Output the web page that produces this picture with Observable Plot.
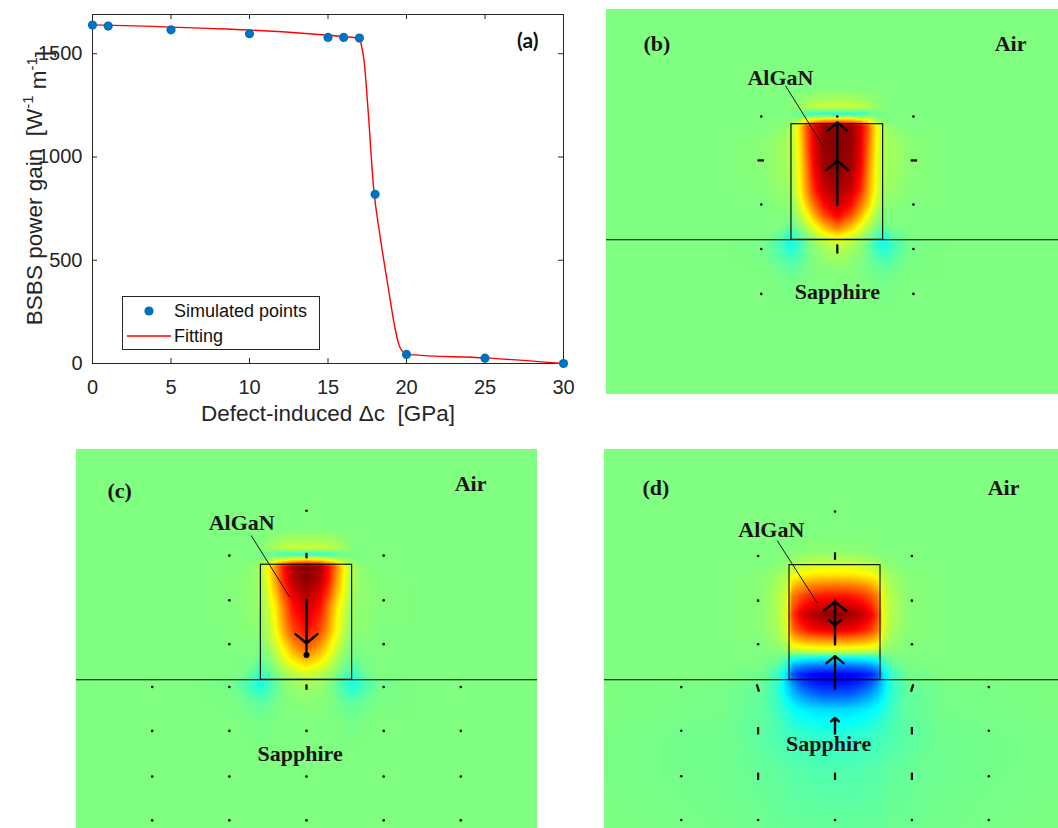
<!DOCTYPE html>
<html>
<head>
<meta charset="utf-8">
<script src="https://cdn.jsdelivr.net/npm/d3@7"></script>
<script src="https://cdn.jsdelivr.net/npm/@observablehq/plot@0.6"></script>
<style>
  html, body { margin: 0; padding: 0; background: #fff; }
  #root { position: relative; width: 1058px; height: 828px; overflow: hidden; }
  .panel { position: absolute; }
</style>
</head>
<body>
<div id="root">
  <div class="panel" id="pa" style="left:0px;top:0px"></div>
  <div class="panel" id="pb" style="left:606px;top:9px"></div>
  <div class="panel" id="pc" style="left:76px;top:449px"></div>
  <div class="panel" id="pd" style="left:604px;top:449px"></div>
</div>
<script>
// ---------- Panel (a) data ----------
const deltaC   = [0, 1, 5, 10, 15, 16, 17, 18, 20, 25, 30];
const gainSim  = [1639, 1634, 1616, 1597, 1579, 1579, 1576, 819, 44, 26, 0];
const fitX     = [0, 17, 17.1, 17.3, 17.55, 17.9, 18.3, 18.8, 19.25, 19.5, 19.85, 20.2, 25, 30];
const fitY     = [1640, 1576, 1550, 1465, 1230, 855, 625, 385, 178, 95, 52, 43, 27, 0];
const xTicks   = [0, 5, 10, 15, 20, 25, 30];
const yTicks   = [0, 500, 1000, 1500];
const legendLabels = ["Simulated points", "Fitting"];

// ---------- Field panels data (normalised displacement, mirrored about x = 0) ----------
const colsHalf = [0, 0.15, 0.25, 0.33, 0.4, 0.47, 0.53, 0.62, 0.8, 1.2, 2.6];
const rowsBC = [2.6, 1.65, 1.52, 1.45, 1.37, 1.3, 1.24, 1.08, 0.8, 0.54, 0.38, 0.25, 0.14, 0.05, -0.04, -0.12, -0.26, -0.45, -0.8, -1.8];
const fieldB = [
  [0,0,0,0,0,0,0,0,0,0,0],
  [0,0,0,0,0,0,0,0,0,0,0],
  [0.08,0.08,0.07,0.05,0.03,0.01,0,0,0,0,0],
  [0.15,0.15,0.13,0.1,0.06,0.03,0.01,0,0,0,0],
  [-0.18,-0.17,-0.15,-0.1,-0.06,-0.03,-0.01,0,0,0,0],
  [0.45,0.42,0.35,0.25,0.12,0.05,0.02,0,0,0,0],
  [0.98,0.95,0.82,0.6,0.35,0.15,0.05,0.02,0,0,0],
  [1,0.96,0.8,0.58,0.33,0.16,0.08,0.06,0.02,0,0],
  [1,0.93,0.78,0.52,0.3,0.14,0.07,0.06,0.02,0,0],
  [0.93,0.85,0.68,0.46,0.27,0.12,0.05,0.04,0.01,0,0],
  [0.86,0.73,0.54,0.36,0.2,0.07,0.02,0.02,0,0,0],
  [0.74,0.57,0.39,0.22,0.1,0.02,0,0,0,0,0],
  [0.52,0.37,0.22,0.1,0.03,-0.04,-0.05,0,0,0,0],
  [0.3,0.2,0.1,0.02,-0.05,-0.13,-0.14,-0.06,0,0,0],
  [0.15,0.1,0.04,-0.03,-0.12,-0.2,-0.21,-0.12,-0.02,0,0],
  [0.1,0.06,0.02,-0.03,-0.1,-0.15,-0.16,-0.1,-0.02,0,0],
  [0.04,0.02,0,-0.02,-0.05,-0.07,-0.08,-0.05,-0.01,0,0],
  [0,0,0,0,-0.01,-0.02,-0.02,-0.01,0,0,0],
  [0,0,0,0,0,0,0,0,0,0,0],
  [0,0,0,0,0,0,0,0,0,0,0]
];
const fieldC = [
  [0,0,0,0,0,0,0,0,0,0,0],
  [0,0,0,0,0,0,0,0,0,0,0],
  [0.08,0.08,0.07,0.05,0.03,0.01,0,0,0,0,0],
  [0.15,0.15,0.13,0.1,0.06,0.03,0.01,0,0,0,0],
  [-0.15,-0.14,-0.12,-0.08,-0.05,-0.02,-0.01,0,0,0,0],
  [0.45,0.4,0.3,0.2,0.1,0.04,0.02,0,0,0,0],
  [1,0.92,0.72,0.5,0.3,0.15,0.06,0.02,0,0,0],
  [0.98,0.88,0.68,0.45,0.27,0.13,0.06,0.03,0.01,0,0],
  [0.86,0.72,0.5,0.3,0.18,0.08,0.04,0.03,0.01,0,0],
  [0.75,0.6,0.42,0.25,0.13,0.05,0.02,0.02,0,0,0],
  [0.6,0.46,0.3,0.17,0.08,0.02,0,0,0,0,0],
  [0.44,0.33,0.2,0.1,0.03,-0.02,-0.03,0,0,0,0],
  [0.28,0.2,0.12,0.04,-0.02,-0.06,-0.08,-0.02,0,0,0],
  [0.15,0.1,0.05,-0.02,-0.08,-0.13,-0.15,-0.06,0,0,0],
  [0.08,0.05,0.01,-0.05,-0.12,-0.18,-0.2,-0.12,-0.03,0,0],
  [0.05,0.03,0,-0.04,-0.1,-0.14,-0.15,-0.1,-0.02,0,0],
  [0.02,0.01,0,-0.02,-0.04,-0.06,-0.06,-0.04,-0.01,0,0],
  [0,0,0,0,-0.01,-0.02,-0.02,-0.01,0,0,0],
  [0,0,0,0,0,0,0,0,0,0,0],
  [0,0,0,0,0,0,0,0,0,0,0]
];
const rowsD = [2.6, 1.6, 1.4, 1.3, 1.24, 1.15, 1.05, 0.92, 0.72, 0.55, 0.45, 0.36, 0.3, 0.24, 0.16, 0.06, -0.04, -0.16, -0.33, -0.6, -1.0, -1.8];
const fieldD = [
  [0,0,0,0,0,0,0,0,0,0,0],
  [0,0,0,0,0,0,0,0,0,0,0],
  [0.03,0.03,0.03,0.02,0.02,0.01,0,0,0,0,0],
  [0.1,0.1,0.1,0.09,0.08,0.06,0.03,0.01,0,0,0],
  [0.2,0.2,0.19,0.18,0.16,0.13,0.06,0.03,0,0,0],
  [0.3,0.3,0.29,0.27,0.25,0.22,0.1,0.06,0.02,0,0],
  [0.5,0.49,0.47,0.44,0.4,0.34,0.14,0.08,0.02,0,0],
  [0.72,0.71,0.68,0.64,0.58,0.5,0.18,0.1,0.02,0,0],
  [0.98,0.95,0.9,0.84,0.76,0.62,0.2,0.1,0.02,0,0],
  [0.8,0.78,0.74,0.69,0.62,0.52,0.18,0.08,0.02,0,0],
  [0.52,0.51,0.49,0.46,0.42,0.36,0.13,0.06,0.01,0,0],
  [0.28,0.27,0.26,0.25,0.23,0.2,0.07,0.03,0,0,0],
  [0.08,0.08,0.08,0.07,0.06,0.05,0.02,0.01,0,0,0],
  [-0.25,-0.25,-0.24,-0.23,-0.21,-0.18,-0.08,-0.03,0,0,0],
  [-0.5,-0.5,-0.49,-0.47,-0.44,-0.38,-0.17,-0.07,-0.01,0,0],
  [-0.76,-0.76,-0.74,-0.71,-0.67,-0.58,-0.3,-0.14,-0.03,0,0],
  [-0.72,-0.71,-0.68,-0.63,-0.56,-0.46,-0.33,-0.16,-0.04,-0.01,0],
  [-0.58,-0.57,-0.53,-0.48,-0.43,-0.36,-0.28,-0.16,-0.06,-0.02,0],
  [-0.32,-0.31,-0.3,-0.28,-0.26,-0.23,-0.19,-0.13,-0.06,-0.02,0],
  [-0.17,-0.17,-0.16,-0.15,-0.14,-0.13,-0.12,-0.1,-0.07,-0.03,-0.01],
  [-0.09,-0.09,-0.09,-0.08,-0.08,-0.08,-0.07,-0.06,-0.05,-0.03,-0.01],
  [-0.04,-0.04,-0.04,-0.04,-0.04,-0.04,-0.04,-0.03,-0.03,-0.02,0]
];

// waveguide geometry (AlGaN ridge on sapphire), in ridge-width units
const waveguide = {x1: -0.5, x2: 0.5, y1: 0, y2: 1.26};
const interfaceY = [0];

// displacement arrows [x1, y1, x2, y2]
const arrowsB = [[0, 0.385, 0, 0.86], [0, 0.865, 0, 1.28]];
const arrowsC = [[0, 0.87, 0, 0.4]];
const arrowsD = [[0, 0.39, 0, 0.86], [0, 0.87, 0, 0.6], [0, -0.1, 0, 0.26], [0, -0.59, 0, -0.42]];
// tiny displacement marks [x1, y1, x2, y2]
const marksB = [[-0.87, 0.865, -0.8, 0.865], [0.8, 0.865, 0.87, 0.865], [0, -0.15, 0, -0.05]];
const marksC = [[0, 1.33, 0, 1.39], [0, -0.11, 0, -0.05], [0, 0.42, 0, 0.27]];
const marksD = [[0, 1.32, 0, 1.4], [-0.86, -0.05, -0.835, -0.13], [0.86, -0.05, 0.835, -0.13],
                [-0.845, -0.52, -0.845, -0.6], [0.845, -0.52, 0.845, -0.6],
                [-0.845, -1.02, -0.845, -1.1], [0.845, -1.02, 0.845, -1.1], [0, -1.02, 0, -1.1]];
// grid points with negligible displacement [x, y]
const dotsB = [[-0.83,1.345],[0,1.345],[0.83,1.345],[-0.83,0.385],[0.83,0.385],[-0.83,-0.1],[0.83,-0.1],[-0.83,-0.59],[0.83,-0.59]];
const dotsC = [[0,1.85],[-0.845,1.36],[0.845,1.36],[-0.845,0.87],[0.845,0.87],[-0.845,0.39],[0.845,0.39],
               [-1.69,-0.08],[-0.845,-0.08],[0.845,-0.08],[1.69,-0.08],
               [-1.69,-0.56],[-0.845,-0.56],[0,-0.56],[0.845,-0.56],[1.69,-0.56],
               [-1.69,-1.06],[-0.845,-1.06],[0,-1.06],[0.845,-1.06],[1.69,-1.06],
               [-1.69,-1.54],[-0.845,-1.54],[0,-1.54],[0.845,-1.54],[1.69,-1.54]];
const endDotC = [[0, 0.27]];
const dotsD = [[0,1.85],[-0.845,1.36],[0.845,1.36],[-0.845,0.87],[0.845,0.87],[-0.845,0.39],[0.845,0.39],
               [-1.69,-0.08],[1.69,-0.08],[-1.69,-0.56],[1.69,-0.56],[-1.69,-1.06],[1.69,-1.06],
               [-1.69,-1.54],[-0.845,-1.54],[0,-1.54],[0.845,-1.54],[1.69,-1.54]];

// annotation labels
const labelsB = {tag: "(b)", air: "Air", core: "AlGaN", sub: "Sapphire"};
const labelsC = {tag: "(c)", air: "Air", core: "AlGaN", sub: "Sapphire"};
const labelsD = {tag: "(d)", air: "Air", core: "AlGaN", sub: "Sapphire"};

// ---------- shared styles ----------
const jet = {
  type: "linear",
  domain: [-1, -0.75, -0.25, 0.25, 0.75, 1],
  range: ["#000080", "#0000ff", "#00ffff", "#ffff00", "#ff0000", "#800000"],
  interpolate: "rgb"
};
const ink = "#1c1414";
const serif = "'Liberation Serif', 'Times New Roman', serif";
const sans = "'Liberation Sans', Arial, sans-serif";

// ---------- Panel (a) ----------
{
  const pts = deltaC.map((x, i) => ({x, y: gainSim[i]}));
  const fit = fitX.map((x, i) => ({x, y: fitY[i]}));
  const yMax = 1690;
  const axisCol = "#262626";
  const svg = Plot.plot({
    width: 600, height: 440,
    marginLeft: 92, marginRight: 37, marginTop: 14, marginBottom: 77,
    style: {fontFamily: sans, fontSize: "20px", color: axisCol, background: "transparent"},
    x: {domain: [0, 30], ticks: xTicks, tickSize: 0, tickPadding: 16, tickFormat: "d", label: null},
    y: {domain: [0, yMax], ticks: yTicks, tickSize: 0, tickPadding: 10, tickFormat: "d", label: null},
    marks: [
      Plot.frame({stroke: axisCol, strokeWidth: 1}),
      Plot.ruleX(xTicks, {x: d => d, y1: 0, y2: 0, insetBottom: 5, stroke: axisCol}),
      Plot.ruleX(xTicks, {x: d => d, y1: yMax, y2: yMax, insetTop: 5, stroke: axisCol}),
      Plot.ruleY(yTicks, {y: d => d, x1: 0, x2: 0, insetRight: -5, stroke: axisCol}),
      Plot.ruleY(yTicks, {y: d => d, x1: 30, x2: 30, insetLeft: -5, stroke: axisCol}),
      Plot.line(fit, {x: "x", y: "y", stroke: "#ff0000", strokeWidth: 1.4, curve: "monotone-x"}),
      Plot.dot(pts, {x: "x", y: "y", r: 4.6, fill: "#0072bd"}),
      Plot.text(["(a)"], {frameAnchor: "top-right", dx: -25, dy: 19, fontFamily: "Lato, 'Open Sans', sans-serif", fontWeight: "bold", fontSize: 21, fill: "#111"}),
      Plot.text(["Defect-induced \u0394c\u00a0\u00a0[GPa]"], {frameAnchor: "bottom", dy: 57, fontSize: 22.5, fill: axisCol})
    ]
  });
  const s = d3.select(svg);
  // y-axis title with superscripts
  const yl = s.append("text")
    .attr("transform", "translate(41.5,188) rotate(-90)")
    .attr("text-anchor", "middle")
    .attr("font-size", 22.5).attr("fill", axisCol)
    .attr("font-family", sans);
  yl.append("tspan").text("BSBS power gain\u00a0\u00a0[W");
  yl.append("tspan").attr("dy", "-0.6em").attr("font-size", 15).text("-1");
  yl.append("tspan").attr("dy", "0.6em").text("\u00a0m");
  yl.append("tspan").attr("dy", "-0.6em").attr("font-size", 15).text("-1");
  yl.append("tspan").attr("dy", "0.6em").text("]");
  // legend
  const lg = s.append("g").attr("font-family", sans).attr("font-size", 18).attr("fill", "#111").attr("text-anchor", "start");
  lg.append("rect").attr("x", 122.5).attr("y", 296.5).attr("width", 197).attr("height", 53)
    .attr("fill", "#fff").attr("stroke", axisCol);
  lg.append("circle").attr("cx", 149).attr("cy", 311).attr("r", 4.6).attr("fill", "#0072bd");
  lg.append("text").attr("x", 174).attr("y", 311).attr("dy", "0.36em").text(legendLabels[0]);
  lg.append("line").attr("x1", 127).attr("x2", 171).attr("y1", 336).attr("y2", 336).attr("stroke", "#ff0000").attr("stroke-width", 1.4);
  lg.append("text").attr("x", 174).attr("y", 336).attr("dy", "0.36em").text(legendLabels[1]);
  document.getElementById("pa").appendChild(svg);
}

// ---------- Field panels ----------
function samplesFrom(rows, cols, table) {
  const out = [];
  rows.forEach((y, i) => cols.forEach((x, j) => {
    out.push({x, y, v: table[i][j]});
    if (x > 0) out.push({x: -x, y, v: table[i][j]});
  }));
  return out;
}

function fieldPanel(o) {
  const seg = {x1: d => d[0], y1: d => d[1], x2: d => d[2], y2: d => d[3]};
  return Plot.plot({
    width: o.width, height: o.height,
    margin: 0,
    style: {background: "#80ff80"},
    x: {domain: o.xDomain, axis: null},
    y: {domain: o.yDomain, axis: null},
    color: jet,
    marks: [
      Plot.raster(samplesFrom(o.rows, colsHalf, o.field), {
        x: "x", y: "y", fill: "v", interpolate: "barycentric",
        x1: o.xDomain[0], x2: o.xDomain[1], y1: o.yDomain[0], y2: o.yDomain[1], pixelSize: 1
      }),
      Plot.ruleY(interfaceY, {stroke: "#000", strokeWidth: 1.1}),
      Plot.rect([waveguide], {x1: "x1", x2: "x2", y1: "y1", y2: "y2", fill: "none", stroke: "#000", strokeWidth: 1.1}),
      Plot.link([o.leader], {...seg, stroke: "#000", strokeWidth: 0.9}),
      Plot.dot(o.dots, {x: d => d[0], y: d => d[1], r: 1.3, fill: "#000"}),
      Plot.link(o.marks, {...seg, stroke: "#000", strokeWidth: 2.2}),
      Plot.arrow(o.arrows, {...seg, stroke: "#000", strokeWidth: 2.4, headLength: 13, headAngle: 100}),
      ...(o.extraDots ? [Plot.dot(o.extraDots, {x: d => d[0], y: d => d[1], r: 3, fill: "#000"})] : []),
      Plot.text([o.labels.tag], {frameAnchor: "top-left", dx: o.tagPos[0], dy: o.tagPos[1], fontFamily: serif, fontWeight: "bold", fontSize: 22, fill: ink}),
      Plot.text([o.labels.air], {frameAnchor: "top-right", dx: o.airPos[0], dy: o.airPos[1], fontFamily: serif, fontWeight: "bold", fontSize: 22, fill: ink}),
      Plot.text([o.labels.core], {x: o.corePos[0], y: o.corePos[1], fontFamily: serif, fontWeight: "bold", fontSize: 22, fill: ink}),
      Plot.text([o.labels.sub], {x: o.subPos[0], y: o.subPos[1], fontFamily: serif, fontWeight: "bold", fontSize: 22, fill: ink})
    ]
  });
}

document.getElementById("pb").appendChild(fieldPanel({
  width: 452, height: 385, xDomain: [-2.517, 2.412], yDomain: [-1.687, 2.511],
  rows: rowsBC, field: fieldB, arrows: arrowsB, marks: marksB, dots: dotsB,
  leader: [-0.565, 1.68, -0.154, 1.02], labels: labelsB,
  tagPos: [37, 26], airPos: [-32, 26], corePos: [-0.62, 1.77], subPos: [0, -0.57]
}));
document.getElementById("pc").appendChild(fieldPanel({
  width: 461, height: 379, xDomain: [-2.519, 2.53], yDomain: [-1.629, 2.522],
  rows: rowsBC, field: fieldC, arrows: arrowsC, marks: marksC, dots: dotsC, extraDots: endDotC,
  leader: [-0.606, 1.58, -0.183, 0.905], labels: labelsC,
  tagPos: [31, 33], airPos: [-51, 26], corePos: [-0.71, 1.715], subPos: [-0.07, -0.81]
}));
document.getElementById("pd").appendChild(fieldPanel({
  width: 454, height: 379, xDomain: [-2.533, 2.456], yDomain: [-1.634, 2.531],
  rows: rowsD, field: fieldD, arrows: arrowsD, marks: marksD, dots: dotsD,
  leader: [-0.635, 1.53, -0.196, 0.846], labels: labelsD,
  tagPos: [38, 30], airPos: [-39, 30], corePos: [-0.70, 1.65], subPos: [-0.07, -0.71]
}));
</script>
</body>
</html>
